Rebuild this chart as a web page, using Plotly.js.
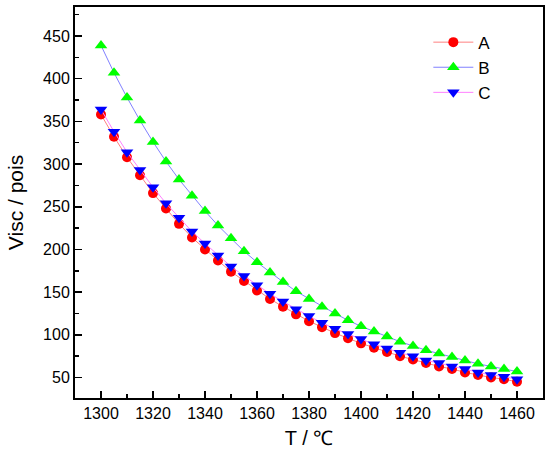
<!DOCTYPE html>
<html>
<head>
<meta charset="utf-8">
<script src="https://cdn.plot.ly/plotly-3.0.1.min.js"></script>
<style>html,body{margin:0;padding:0;background:#fff;}</style>
</head>
<body>
<div id="chart" style="width:550px;height:457px;"></div>
<script>
const temperature = [1300,1305,1310,1315,1320,1325,1330,1335,1340,1345,1350,1355,1360,1365,1370,1375,1380,1385,1390,1395,1400,1405,1410,1415,1420,1425,1430,1435,1440,1445,1450,1455,1460];
const seriesA = [358,332,308,287,266,248,230,214,200,187,174,163,152,142,133,124,116,109,102,96,90,85,80,75,71,67,63,60,56,53,50,48,45];
const seriesB = [439,407,378,351,326,303,282,263,245,228,213,198,185,173,162,151,142,133,125,117,110,104,98,92,87,82,78,74,70,66,63,60,57];
const seriesC = [364,338,314,293,273,254,237,221,207,193,180,169,158,148,139,130,122,114,107,101,95,89,84,79,75,70,67,63,60,56,53,51,48];
const seriesNames = ['A','B','C'];

const traces = [
  {x: temperature, y: seriesA, name: seriesNames[0], mode: 'lines+markers',
   line: {color: '#ff8080', width: 1}, marker: {symbol: 'circle', size: 10, color: '#ff0000'}},
  {x: temperature, y: seriesB, name: seriesNames[1], mode: 'lines+markers',
   line: {color: '#8080ff', width: 1}, marker: {symbol: 'triangle-up', size: 11, color: '#00ff00'}},
  {x: temperature, y: seriesC, name: seriesNames[2], mode: 'lines+markers',
   line: {color: '#ff80ff', width: 1}, marker: {symbol: 'triangle-down', size: 11, color: '#0000ff'}}
];

const fontFam = 'Arial, "Liberation Sans", sans-serif';
const layout = {
  width: 550, height: 457,
  margin: {l: 75, r: 7, t: 7, b: 59},
  paper_bgcolor: '#fff', plot_bgcolor: '#fff',
  font: {family: fontFam, color: '#000', size: 16},
  showlegend: true,
  legend: {x: 0.755, y: 0.955, xanchor: 'left', yanchor: 'top', bgcolor: 'rgba(0,0,0,0)',
           font: {size: 17, family: fontFam}, itemwidth: 40, tracegroupgap: 0},
  xaxis: {
    range: [1290, 1470], dtick: 20, tick0: 1300,
    ticks: 'inside', ticklen: 7, tickwidth: 1.5, tickcolor: '#000',
    showline: true, linecolor: '#000', linewidth: 2, mirror: true,
    showgrid: false, zeroline: false,
    minor: {dtick: 10, ticks: 'inside', ticklen: 4, tickwidth: 1.5, tickcolor: '#000', showgrid: false},
    tickfont: {size: 16},
    title: {text: 'T / <span style="font-family:\'Liberation Serif\', serif">℃</span>', font: {size: 20}, standoff: 10}
  },
  yaxis: {
    range: [26, 484], dtick: 50, tick0: 50,
    ticks: 'inside', ticklen: 7, tickwidth: 1.5, tickcolor: '#000',
    showline: true, linecolor: '#000', linewidth: 2, mirror: true,
    showgrid: false, zeroline: false,
    minor: {dtick: 25, ticks: 'inside', ticklen: 4, tickwidth: 1.5, tickcolor: '#000', showgrid: false},
    tickfont: {size: 16},
    title: {text: 'Visc / pois', font: {size: 21}, standoff: 14}
  }
};

Plotly.newPlot('chart', traces, layout, {staticPlot: true, displayModeBar: false});
</script>
</body>
</html>
